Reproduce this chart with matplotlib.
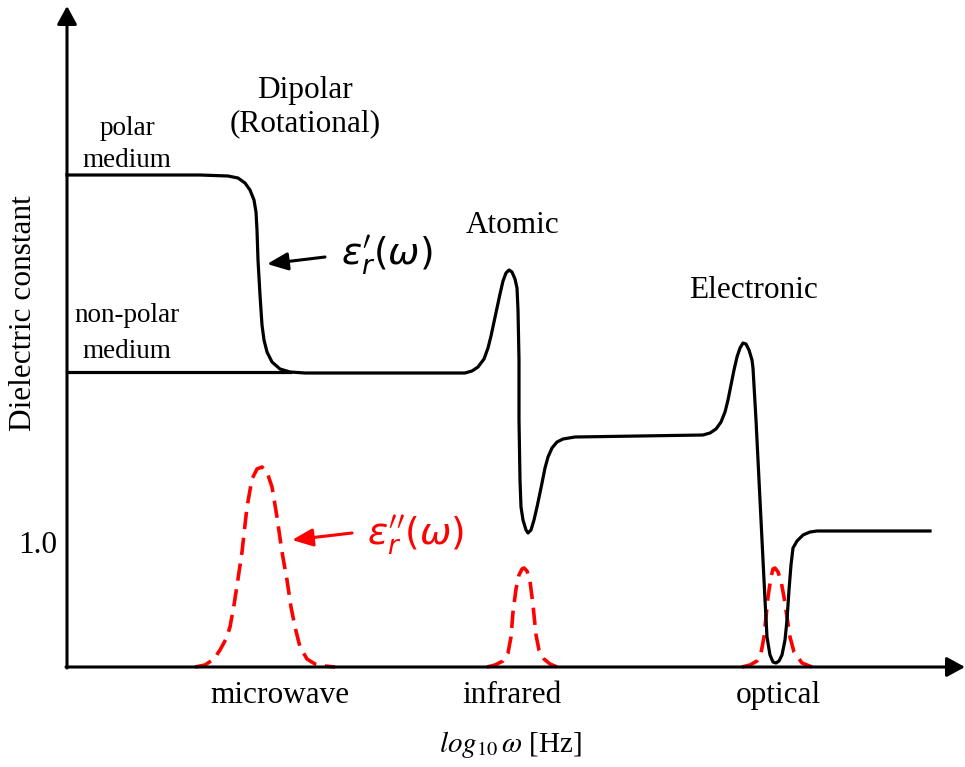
import matplotlib
matplotlib.use("Agg")
import matplotlib.pyplot as plt

plt.rcParams['font.family'] = ['Liberation Serif', 'DejaVu Serif']
plt.rcParams['mathtext.fontset'] = 'stix'

# ---- data (arbitrary schematic units: x ~ log10 w, y ~ dielectric response) ----
# real part eps'_r, starting from the polar-medium plateau
real_x = [0, 83, 133, 161, 171, 178, 183, 187, 189, 190, 191, 193, 195, 197, 200, 205,
          213, 223, 238, 398, 405, 411, 417, 421, 424, 427, 430, 433, 436, 439, 442,
          445, 448, 450, 451, 452, 452, 453, 454, 456, 459, 461, 464, 467, 470, 474,
          478, 481, 485, 490, 496, 508, 636, 643, 649, 654, 658, 661, 664, 667, 670,
          673, 676, 679, 682, 685, 686, 689, 692, 695, 698, 700, 703, 706, 709, 712,
          715, 718, 720, 722, 724, 726, 730, 736, 743, 750, 863]
real_y = [492, 492, 492, 491, 489, 484, 477, 467, 455, 437, 407, 372, 342, 327, 315, 305,
          298, 295, 294, 294, 296, 300, 308, 319, 331, 345, 359, 373, 386, 394, 397,
          395, 388, 379, 357, 307, 247, 187, 160, 147, 137, 134, 137, 147, 160, 179,
          199, 210, 219, 225, 228, 230, 232, 234, 238, 245, 255, 267, 282, 297, 310,
          319, 324, 323, 317, 307, 299, 247, 187, 127, 67, 30, 12, 5, 4, 6,
          12, 27, 47, 77, 102, 119, 126, 132, 135, 136, 136]

# non-polar medium plateau
nonpolar_x = [0, 223]
nonpolar_y = [295, 295]

# imaginary part eps''_r : three loss peaks
mw_x = [128, 138, 147, 153, 159, 163, 167, 171, 175, 180, 185, 190, 195, 200, 205,
        210, 215, 220, 224, 228, 233, 240, 248, 258, 268]
mw_y = [0, 2, 8, 17, 28, 40, 62, 88, 115, 160, 188, 198, 200, 195, 180,
        150, 115, 87, 60, 40, 20, 8, 3, 1, 0]

ir_x = [420, 428, 436, 441, 444, 446, 449, 452, 455, 457, 460, 463, 466, 469, 472, 477, 483, 490]
ir_y = [0, 2, 6, 14, 30, 55, 78, 92, 98, 99, 96, 86, 62, 32, 17, 8, 3, 0]

op_x = [675, 683, 690, 694, 697, 699, 701, 704, 706, 708, 711, 714, 717, 720, 723, 727, 735, 745]
op_y = [0, 2, 6, 14, 30, 50, 70, 90, 98, 99, 95, 86, 70, 50, 30, 15, 4, 0]

band_labels = ['microwave', 'infrared', 'optical']
band_pos = [213, 445, 711]

RED = '#FF0000'

fig = plt.figure(figsize=(9.65, 7.67), dpi=100)
ax = fig.add_axes([0, 0, 1, 1])
ax.set_xlim(-67, 898)
ax.set_ylim(-100, 667)
ax.axis('off')

# axes arrows
arrow_kw = dict(arrowstyle='-|>,head_length=0.55,head_width=0.3', color='black',
                lw=2.2, mutation_scale=20, shrinkA=0, shrinkB=0)
ax.annotate('', xy=(0, 661), xytext=(0, -1), arrowprops=arrow_kw)
ax.annotate('', xy=(898, 0), xytext=(-1, 0), arrowprops=arrow_kw)

# loss peaks (dashed red)
for xs, ys in [(mw_x, mw_y), (ir_x, ir_y), (op_x, op_y)]:
    ax.plot(xs, ys, color=RED, lw=2.6, linestyle=(0, (4.8, 2.4)), zorder=2)

# real part
ax.plot(real_x, real_y, color='black', lw=2.3, solid_joinstyle='round', zorder=3)
ax.plot(nonpolar_x, nonpolar_y, color='black', lw=2.3, zorder=3)

# labels
txt = dict(ha='center', va='baseline', fontsize=22.5)
ax.text(238, 569, 'Dipolar', **txt)
ax.text(238, 536, '(Rotational)', **txt)
ax.text(446, 434, 'Atomic', **txt)
ax.text(687, 369, 'Electronic', **txt)

small = dict(ha='center', va='baseline', fontsize=19.5)
ax.text(60, 532, 'polar', **small)
ax.text(60, 500, 'medium', **small)
ax.text(60, 345, 'non-polar', **small)
ax.text(60, 309, 'medium', **small)

for lab, xp in zip(band_labels, band_pos):
    ax.text(xp, -36, lab, **txt)

ax.text(-29, 114, '1.0', ha='center', va='baseline', fontsize=22.5)
ax.text(-43, 354, 'Dielectric constant', ha='center', va='center',
        rotation=90, fontsize=22.5)
ax.text(443, -78, r'$log_{10}\,\omega$ [Hz]', ha='center', va='center', fontsize=21)

# curve annotations
ax.text(320, 412, r"$\varepsilon^{\prime}_{r}(\omega)$", ha='center', va='center',
        fontsize=27, color='black', math_fontfamily='dejavusans')
ax.text(348, 132, r"$\varepsilon^{\prime\prime}_{r}(\omega)$", ha='center', va='center',
        fontsize=27, color=RED, math_fontfamily='dejavusans')

ann_kw = dict(arrowstyle='-|>,head_length=0.7,head_width=0.3', lw=2.2,
              mutation_scale=18, shrinkA=0, shrinkB=0)
ax.annotate('', xy=(200, 403), xytext=(258, 410),
            arrowprops=dict(color='black', **ann_kw))
ax.annotate('', xy=(225, 127), xytext=(285, 134),
            arrowprops=dict(color=RED, **ann_kw))

plt.savefig('out.png', dpi=100, facecolor='white')
